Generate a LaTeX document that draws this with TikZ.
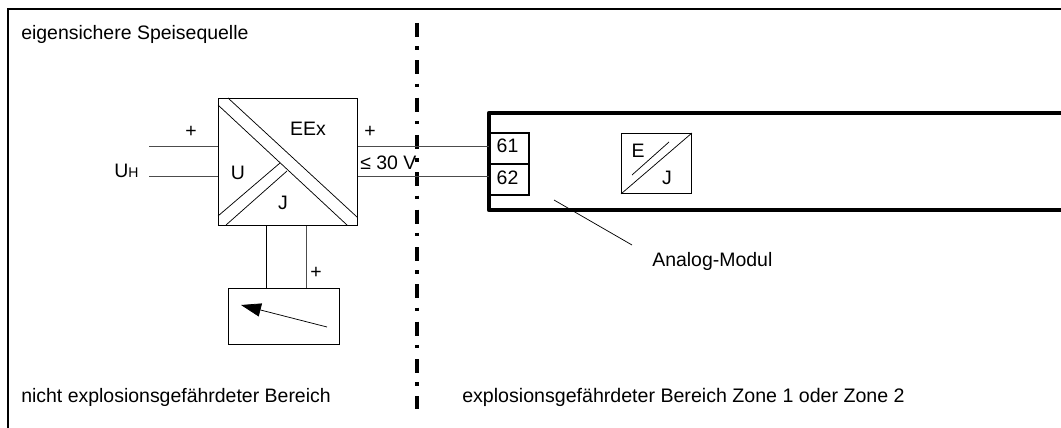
\documentclass[tikz,border=0pt]{standalone}
\usepackage{fontspec}
\setmainfont{Liberation Sans}
\usetikzlibrary{arrows.meta}
\tikzset{
  lbl/.style={inner sep=0pt,font=\fontsize{14.6}{17}\selectfont},
  lblleft/.style={lbl,anchor=base west},
  wire/.style={black!70,line width=0.75pt},
  thin line/.style={black,line width=0.55pt},
  heavy line/.style={black,line width=3.3pt},
  termbox/.style={draw,line width=1.5pt,inner sep=0pt,minimum width=29pt,minimum height=23.25pt,anchor=north west}
}
\begin{document}
\begin{tikzpicture}[x=0.75pt,y=0.75pt]
\useasboundingbox (0,0) rectangle (1061,-428);
% outer frame
\coordinate (frameTop) at (1061,-9);
\coordinate (frameCorner) at (8,-9);
\coordinate (frameBottom) at (8,-428);
\draw [black,line width=1.5pt] (frameTop) -- (frameCorner) -- (frameBottom);
% zone boundary
\coordinate (zoneTop) at (417,-23);
\coordinate (zoneBottom) at (417,-409);
\draw [black,line width=3.4pt,dash pattern=on 10.5pt off 6.9pt on 2.6pt off 8pt] (zoneTop) -- (zoneBottom);
% converter
\node (conv) [draw,black,line width=0.75pt,minimum width=104.25pt,minimum height=95.25pt,anchor=north west,inner sep=0pt] at (218,-98) {};
\coordinate (d1a) at (228,-98);
\coordinate (d1b) at (357,-217);
\coordinate (d2a) at (218,-105);
\coordinate (d2b) at (347,-225);
\coordinate (d3a) at (218,-216);
\coordinate (d3b) at (280,-163);
\coordinate (d4a) at (226,-225);
\coordinate (d4b) at (287,-171);
\draw [thin line] (d1a) -- (d1b);
\draw [thin line] (d2a) -- (d2b);
\draw [thin line] (d3a) -- (d3b);
\draw [thin line] (d4a) -- (d4b);
\node (eex) [lbl] at (308,-129) {EEx};
\node (uconv) [lbl] at (238,-173) {U};
\node (jconv) [lbl] at (283,-203) {J};
% supply side
\coordinate (inPlus) at (149,-146);
\coordinate (inMinus) at (149,-176);
\draw [wire] (inPlus) -- (inPlus -| conv.west);
\draw [wire] (inMinus) -- (inMinus -| conv.west);
\node (plusIn) [lbl] at (191,-132) {+};
\node (uh) [lblleft] at (114,-177) {U{\fontsize{10.5}{12}\selectfont H}};
% meter
\node (meter) [draw,black,line width=0.75pt,minimum width=83.25pt,minimum height=42pt,anchor=north west,inner sep=0pt] at (228,-288) {};
\coordinate (mTipA) at (266,-288);
\coordinate (mTipB) at (306,-288);
\draw [black,line width=0.75pt] (mTipA |- conv.south) -- (mTipA);
\draw [wire] (mTipB |- conv.south) -- (mTipB);
\node (plusMeter) [lbl] at (316,-273) {+};
\coordinate (needleEnd) at (327,-327);
\coordinate (needleTip) at (241,-305);
\draw [thin line,-{Triangle[length=15pt,width=10pt]}] (needleEnd) -- (needleTip);
% analog module
\coordinate (modTop) at (1061,-113);
\coordinate (modTopLeft) at (489,-113);
\coordinate (modBotLeft) at (489,-210);
\coordinate (modBot) at (1061,-210);
\draw [heavy line,line join=round] (modTop) -- (modTopLeft) -- (modBotLeft) -- (modBot);
\node (t61) [termbox] at (489,-132) {};
\node (t62) [termbox] at (489,-163) {};
\node (l61) [lbl] at (507.5,-146) {61};
\node (l62) [lbl] at (507.5,-177.5) {62};
% output side
\coordinate (outPlus) at (t61.west |- 0,-146);
\coordinate (outMinus) at (t62.west |- 0,-176);
\draw [wire] (outPlus -| conv.east) -- (outPlus);
\draw [wire] (outMinus -| conv.east) -- (outMinus);
\node (plusOut) [lbl] at (370,-132) {+};
\node (volt) [lblleft] at (360,-170) {≤ 30 V};
% E/J block
\node (ej) [draw,black,line width=0.7pt,minimum width=52.5pt,minimum height=45pt,anchor=north west,inner sep=0pt] at (621,-133) {};
\coordinate (e1a) at (632,-175);
\coordinate (e1b) at (669,-142);
\draw [thin line] (ej.south west) -- (ej.north east);
\draw [thin line] (e1a) -- (e1b);
\node (eblk) [lbl] at (638,-151) {E};
\node (jblk) [lbl] at (667,-178) {J};
% module label
\coordinate (leadA) at (554,-200);
\coordinate (leadB) at (632,-245);
\draw [thin line] (leadA) -- (leadB);
\node (modlbl) [lblleft] at (652,-266) {Analog-Modul};
% zone texts
\node (source) [lblleft] at (21,-40) {eigensichere Speisequelle};
\node (safe) [lblleft] at (21,-402) {nicht explosionsgefährdeter Bereich};
\node (hazard) [lblleft,font=\fontsize{14.7}{17}\selectfont] at (462,-402) {explosionsgefährdeter Bereich Zone 1 oder Zone 2};
\end{tikzpicture}
\end{document}
